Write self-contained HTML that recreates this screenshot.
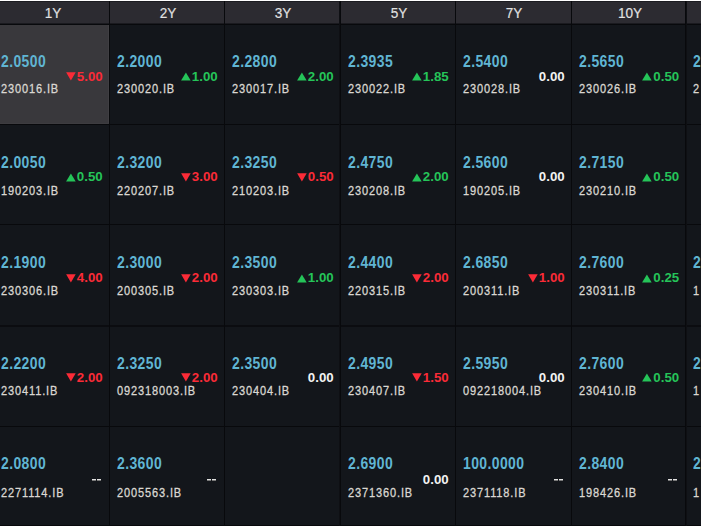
<!DOCTYPE html><html><head><meta charset="utf-8"><style>
*{margin:0;padding:0;box-sizing:border-box}
html,body{width:701px;height:527px;overflow:hidden;background:#ffffff}
body{position:relative;font-family:"Liberation Sans",sans-serif}
.a{position:absolute}
.p{position:absolute;font-size:15.5px;transform:scale(0.9,1.02);transform-origin:0 0;letter-spacing:0.45px;font-weight:bold;color:#60b5d3;white-space:nowrap;line-height:20px}
.b{position:absolute;font-size:12.5px;color:#dad7d2;-webkit-text-stroke:0.3px #dad7d2;transform:scaleX(0.88);transform-origin:0 0;letter-spacing:1px;white-space:nowrap;line-height:20px}
.v{position:absolute;font-size:13.3px;font-weight:bold;white-space:nowrap;line-height:20px;text-align:right}
.h{position:absolute;font-size:16px;-webkit-text-stroke:0.15px #e2e2e2;transform:scale(0.85,0.93);transform-origin:50% 0;color:#e2e2e2;white-space:nowrap;line-height:20px;text-align:center}
.u{color:#25c459}.d{color:#fb2b37}.z{color:#f2f2f2}
svg{position:absolute}
</style></head><body>

<div class="a" style="left:0px;top:1px;width:701px;height:525px;background:#13161b"></div>
<div class="a" style="left:0px;top:1px;width:701px;height:1px;background:#1c1c21"></div>
<div class="a" style="left:0px;top:2px;width:701px;height:22px;background:#2c2b31"></div>
<div class="a" style="left:0px;top:23px;width:701px;height:1px;background:#1a1a1f"></div>
<div class="a" style="left:0px;top:25px;width:109px;height:99px;background:#39383c"></div>
<div class="a" style="left:108px;top:25px;width:1px;height:99px;background:#403f43"></div>
<div class="a" style="left:0px;top:123px;width:109px;height:1px;background:#3d3c40"></div>
<div class="a" style="left:0px;top:24px;width:701px;height:1px;background:#08090c"></div>
<div class="a" style="left:0px;top:124px;width:701px;height:1px;background:#08090c"></div>
<div class="a" style="left:0px;top:224px;width:701px;height:1px;background:#08090c"></div>
<div class="a" style="left:0px;top:325px;width:701px;height:2px;background:#0b0c10"></div>
<div class="a" style="left:0px;top:426px;width:701px;height:1px;background:#08090c"></div>
<div class="a" style="left:0px;top:525px;width:701px;height:1px;background:#08090c"></div>
<div class="a" style="left:109px;top:1px;width:1px;height:525px;background:#08090c"></div>
<div class="a" style="left:224px;top:1px;width:1px;height:525px;background:#08090c"></div>
<div class="a" style="left:340px;top:1px;width:1px;height:525px;background:#08090c"></div>
<div class="a" style="left:455px;top:1px;width:1px;height:525px;background:#08090c"></div>
<div class="a" style="left:571px;top:1px;width:1px;height:525px;background:#08090c"></div>
<div class="a" style="left:685px;top:1px;width:1px;height:525px;background:#08090c"></div>
<div class="a" style="left:339px;top:1px;width:1px;height:525px;background:#0e0f13"></div>
<div class="a" style="left:686px;top:1px;width:1px;height:525px;background:#0e0f13"></div>
<div class="h" style="left:12.50px;width:80px;top:3.6px">1Y</div>
<div class="h" style="left:127.80px;width:80px;top:3.6px">2Y</div>
<div class="h" style="left:243.30px;width:80px;top:3.6px">3Y</div>
<div class="h" style="left:358.80px;width:80px;top:3.6px">5Y</div>
<div class="h" style="left:474.30px;width:80px;top:3.6px">7Y</div>
<div class="h" style="left:589.55px;width:80px;top:3.6px">10Y</div>
<div class="p" style="left:1.40px;top:51.60px">2.0500</div>
<div class="b" style="left:1.40px;top:78.90px">230016.IB</div>
<div class="v d" style="left:42.70px;width:60px;top:66.60px">5.00</div>
<svg style="left:65.70px;top:72.20px" width="10" height="9" viewBox="0 0 10 9"><polygon points="0.1,0.2 9.7,0.2 4.9,8.4" fill="#fb2b37"/></svg>
<div class="p" style="left:117.00px;top:51.60px">2.2000</div>
<div class="b" style="left:117.00px;top:78.90px">230020.IB</div>
<div class="v u" style="left:157.70px;width:60px;top:66.60px">1.00</div>
<svg style="left:180.70px;top:72.20px" width="10" height="9" viewBox="0 0 10 9"><polygon points="4.9,0.4 9.7,8.6 0.1,8.6" fill="#25c459"/></svg>
<div class="p" style="left:232.00px;top:51.60px">2.2800</div>
<div class="b" style="left:232.00px;top:78.90px">230017.IB</div>
<div class="v u" style="left:273.70px;width:60px;top:66.60px">2.00</div>
<svg style="left:296.70px;top:72.20px" width="10" height="9" viewBox="0 0 10 9"><polygon points="4.9,0.4 9.7,8.6 0.1,8.6" fill="#25c459"/></svg>
<div class="p" style="left:348.00px;top:51.60px">2.3935</div>
<div class="b" style="left:348.00px;top:78.90px">230022.IB</div>
<div class="v u" style="left:388.70px;width:60px;top:66.60px">1.85</div>
<svg style="left:411.70px;top:72.20px" width="10" height="9" viewBox="0 0 10 9"><polygon points="4.9,0.4 9.7,8.6 0.1,8.6" fill="#25c459"/></svg>
<div class="p" style="left:463.00px;top:51.60px">2.5400</div>
<div class="b" style="left:463.00px;top:78.90px">230028.IB</div>
<div class="v z" style="left:504.70px;width:60px;top:66.60px">0.00</div>
<div class="p" style="left:579.00px;top:51.60px">2.5650</div>
<div class="b" style="left:579.00px;top:78.90px">230026.IB</div>
<div class="v u" style="left:619.20px;width:60px;top:66.60px">0.50</div>
<svg style="left:642.20px;top:72.20px" width="10" height="9" viewBox="0 0 10 9"><polygon points="4.9,0.4 9.7,8.6 0.1,8.6" fill="#25c459"/></svg>
<div class="p" style="left:692.50px;top:51.60px">2.</div>
<div class="b" style="left:692.50px;top:78.90px">2</div>
<div class="p" style="left:1.40px;top:153.05px">2.0050</div>
<div class="b" style="left:1.40px;top:180.70px">190203.IB</div>
<div class="v u" style="left:42.70px;width:60px;top:167.10px">0.50</div>
<svg style="left:65.70px;top:172.70px" width="10" height="9" viewBox="0 0 10 9"><polygon points="4.9,0.4 9.7,8.6 0.1,8.6" fill="#25c459"/></svg>
<div class="p" style="left:117.00px;top:153.05px">2.3200</div>
<div class="b" style="left:117.00px;top:180.70px">220207.IB</div>
<div class="v d" style="left:157.70px;width:60px;top:167.10px">3.00</div>
<svg style="left:180.70px;top:172.70px" width="10" height="9" viewBox="0 0 10 9"><polygon points="0.1,0.2 9.7,0.2 4.9,8.4" fill="#fb2b37"/></svg>
<div class="p" style="left:232.00px;top:153.05px">2.3250</div>
<div class="b" style="left:232.00px;top:180.70px">210203.IB</div>
<div class="v d" style="left:273.70px;width:60px;top:167.10px">0.50</div>
<svg style="left:296.70px;top:172.70px" width="10" height="9" viewBox="0 0 10 9"><polygon points="0.1,0.2 9.7,0.2 4.9,8.4" fill="#fb2b37"/></svg>
<div class="p" style="left:348.00px;top:153.05px">2.4750</div>
<div class="b" style="left:348.00px;top:180.70px">230208.IB</div>
<div class="v u" style="left:388.70px;width:60px;top:167.10px">2.00</div>
<svg style="left:411.70px;top:172.70px" width="10" height="9" viewBox="0 0 10 9"><polygon points="4.9,0.4 9.7,8.6 0.1,8.6" fill="#25c459"/></svg>
<div class="p" style="left:463.00px;top:153.05px">2.5600</div>
<div class="b" style="left:463.00px;top:180.70px">190205.IB</div>
<div class="v z" style="left:504.70px;width:60px;top:167.10px">0.00</div>
<div class="p" style="left:579.00px;top:153.05px">2.7150</div>
<div class="b" style="left:579.00px;top:180.70px">230210.IB</div>
<div class="v u" style="left:619.20px;width:60px;top:167.10px">0.50</div>
<svg style="left:642.20px;top:172.70px" width="10" height="9" viewBox="0 0 10 9"><polygon points="4.9,0.4 9.7,8.6 0.1,8.6" fill="#25c459"/></svg>
<div class="p" style="left:1.40px;top:253.20px">2.1900</div>
<div class="b" style="left:1.40px;top:281.25px">230306.IB</div>
<div class="v d" style="left:42.70px;width:60px;top:268.00px">4.00</div>
<svg style="left:65.70px;top:273.60px" width="10" height="9" viewBox="0 0 10 9"><polygon points="0.1,0.2 9.7,0.2 4.9,8.4" fill="#fb2b37"/></svg>
<div class="p" style="left:117.00px;top:253.20px">2.3000</div>
<div class="b" style="left:117.00px;top:281.25px">200305.IB</div>
<div class="v d" style="left:157.70px;width:60px;top:268.00px">2.00</div>
<svg style="left:180.70px;top:273.60px" width="10" height="9" viewBox="0 0 10 9"><polygon points="0.1,0.2 9.7,0.2 4.9,8.4" fill="#fb2b37"/></svg>
<div class="p" style="left:232.00px;top:253.20px">2.3500</div>
<div class="b" style="left:232.00px;top:281.25px">230303.IB</div>
<div class="v u" style="left:273.70px;width:60px;top:268.00px">1.00</div>
<svg style="left:296.70px;top:273.60px" width="10" height="9" viewBox="0 0 10 9"><polygon points="4.9,0.4 9.7,8.6 0.1,8.6" fill="#25c459"/></svg>
<div class="p" style="left:348.00px;top:253.20px">2.4400</div>
<div class="b" style="left:348.00px;top:281.25px">220315.IB</div>
<div class="v d" style="left:388.70px;width:60px;top:268.00px">2.00</div>
<svg style="left:411.70px;top:273.60px" width="10" height="9" viewBox="0 0 10 9"><polygon points="0.1,0.2 9.7,0.2 4.9,8.4" fill="#fb2b37"/></svg>
<div class="p" style="left:463.00px;top:253.20px">2.6850</div>
<div class="b" style="left:463.00px;top:281.25px">200311.IB</div>
<div class="v d" style="left:504.70px;width:60px;top:268.00px">1.00</div>
<svg style="left:527.70px;top:273.60px" width="10" height="9" viewBox="0 0 10 9"><polygon points="0.1,0.2 9.7,0.2 4.9,8.4" fill="#fb2b37"/></svg>
<div class="p" style="left:579.00px;top:253.20px">2.7600</div>
<div class="b" style="left:579.00px;top:281.25px">230311.IB</div>
<div class="v u" style="left:619.20px;width:60px;top:268.00px">0.25</div>
<svg style="left:642.20px;top:273.60px" width="10" height="9" viewBox="0 0 10 9"><polygon points="4.9,0.4 9.7,8.6 0.1,8.6" fill="#25c459"/></svg>
<div class="p" style="left:692.50px;top:253.20px">2.</div>
<div class="b" style="left:692.50px;top:281.25px">1</div>
<div class="p" style="left:1.40px;top:353.85px">2.2200</div>
<div class="b" style="left:1.40px;top:381.22px">230411.IB</div>
<div class="v d" style="left:42.70px;width:60px;top:367.89px">2.00</div>
<svg style="left:65.70px;top:373.49px" width="10" height="9" viewBox="0 0 10 9"><polygon points="0.1,0.2 9.7,0.2 4.9,8.4" fill="#fb2b37"/></svg>
<div class="p" style="left:117.00px;top:353.85px">2.3250</div>
<div class="b" style="left:117.00px;top:381.22px">092318003.IB</div>
<div class="v d" style="left:157.70px;width:60px;top:367.89px">2.00</div>
<svg style="left:180.70px;top:373.49px" width="10" height="9" viewBox="0 0 10 9"><polygon points="0.1,0.2 9.7,0.2 4.9,8.4" fill="#fb2b37"/></svg>
<div class="p" style="left:232.00px;top:353.85px">2.3500</div>
<div class="b" style="left:232.00px;top:381.22px">230404.IB</div>
<div class="v z" style="left:273.70px;width:60px;top:367.89px">0.00</div>
<div class="p" style="left:348.00px;top:353.85px">2.4950</div>
<div class="b" style="left:348.00px;top:381.22px">230407.IB</div>
<div class="v d" style="left:388.70px;width:60px;top:367.89px">1.50</div>
<svg style="left:411.70px;top:373.49px" width="10" height="9" viewBox="0 0 10 9"><polygon points="0.1,0.2 9.7,0.2 4.9,8.4" fill="#fb2b37"/></svg>
<div class="p" style="left:463.00px;top:353.85px">2.5950</div>
<div class="b" style="left:463.00px;top:381.22px">092218004.IB</div>
<div class="v z" style="left:504.70px;width:60px;top:367.89px">0.00</div>
<div class="p" style="left:579.00px;top:353.85px">2.7600</div>
<div class="b" style="left:579.00px;top:381.22px">230410.IB</div>
<div class="v u" style="left:619.20px;width:60px;top:367.89px">0.50</div>
<svg style="left:642.20px;top:373.49px" width="10" height="9" viewBox="0 0 10 9"><polygon points="4.9,0.4 9.7,8.6 0.1,8.6" fill="#25c459"/></svg>
<div class="p" style="left:692.50px;top:353.85px">2.</div>
<div class="b" style="left:692.50px;top:381.22px">1</div>
<div class="p" style="left:1.40px;top:454.10px">2.0800</div>
<div class="b" style="left:1.40px;top:483.00px">2271114.IB</div>
<div class="a" style="left:92px;top:479px;width:4px;height:1px;background:#e0e0e0"></div>
<div class="a" style="left:92px;top:480px;width:4px;height:1px;background:#7a7a7a"></div>
<div class="a" style="left:97px;top:479px;width:4px;height:1px;background:#e0e0e0"></div>
<div class="a" style="left:97px;top:480px;width:4px;height:1px;background:#7a7a7a"></div>
<div class="p" style="left:117.00px;top:454.10px">2.3600</div>
<div class="b" style="left:117.00px;top:483.00px">2005563.IB</div>
<div class="a" style="left:207px;top:479px;width:4px;height:1px;background:#e0e0e0"></div>
<div class="a" style="left:207px;top:480px;width:4px;height:1px;background:#7a7a7a"></div>
<div class="a" style="left:212px;top:479px;width:4px;height:1px;background:#e0e0e0"></div>
<div class="a" style="left:212px;top:480px;width:4px;height:1px;background:#7a7a7a"></div>
<div class="p" style="left:348.00px;top:454.10px">2.6900</div>
<div class="b" style="left:348.00px;top:483.00px">2371360.IB</div>
<div class="v z" style="left:388.70px;width:60px;top:469.90px">0.00</div>
<div class="p" style="left:463.00px;top:454.10px">100.0000</div>
<div class="b" style="left:463.00px;top:483.00px">2371118.IB</div>
<div class="a" style="left:554px;top:479px;width:4px;height:1px;background:#e0e0e0"></div>
<div class="a" style="left:554px;top:480px;width:4px;height:1px;background:#7a7a7a"></div>
<div class="a" style="left:559px;top:479px;width:4px;height:1px;background:#e0e0e0"></div>
<div class="a" style="left:559px;top:480px;width:4px;height:1px;background:#7a7a7a"></div>
<div class="p" style="left:579.00px;top:454.10px">2.8400</div>
<div class="b" style="left:579.00px;top:483.00px">198426.IB</div>
<div class="a" style="left:668px;top:479px;width:4px;height:1px;background:#e0e0e0"></div>
<div class="a" style="left:668px;top:480px;width:4px;height:1px;background:#7a7a7a"></div>
<div class="a" style="left:673px;top:479px;width:4px;height:1px;background:#e0e0e0"></div>
<div class="a" style="left:673px;top:480px;width:4px;height:1px;background:#7a7a7a"></div>
<div class="p" style="left:692.50px;top:454.10px">2.</div>
<div class="b" style="left:692.50px;top:483.00px">1</div>
</body></html>
